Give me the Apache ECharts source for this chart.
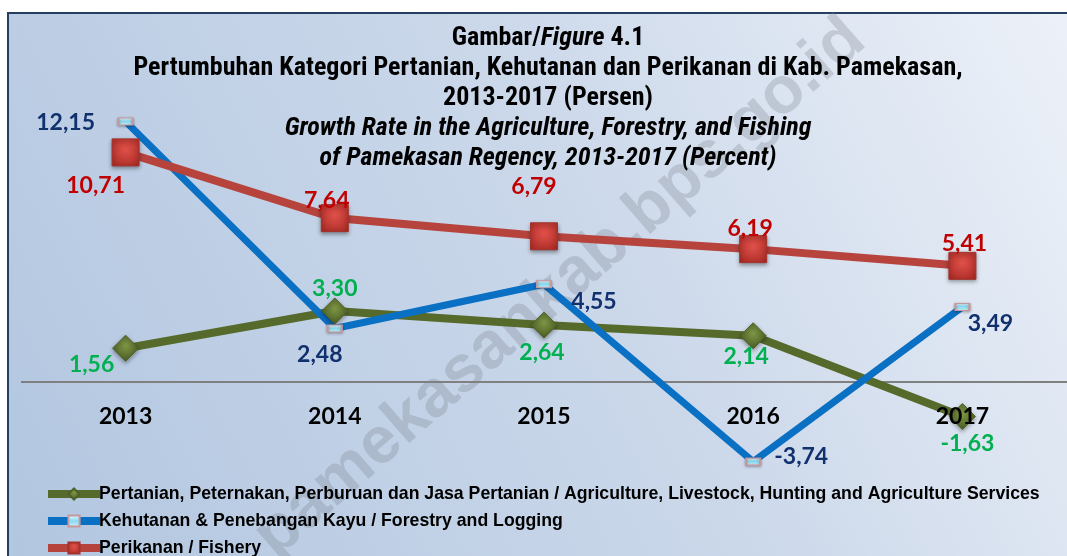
<!DOCTYPE html>
<html>
<head>
<meta charset="utf-8">
<script src="https://cdn.jsdelivr.net/npm/echarts@6/dist/echarts.min.js"></script>
<style>html,body{margin:0;padding:0;background:#fff}#c{width:1067px;height:556px}</style>
</head>
<body>
<div id="c"></div>
<script>
const categories = ['2013', '2014', '2015', '2016', '2017'];
const agriculture = [1.56, 3.30, 2.64, 2.14, -1.63];
const forestry = [12.15, 2.48, 4.55, -3.74, 3.49];
const fishery = [10.71, 7.64, 6.79, 6.19, 5.41];
const seriesNames = [
  'Pertanian, Peternakan, Perburuan dan Jasa Pertanian / Agriculture, Livestock, Hunting and Agriculture Services',
  'Kehutanan & Penebangan Kayu / Forestry and Logging',
  'Perikanan / Fishery'
];

// label offsets relative to marker centre (styling, not data)
const agriOff = [[-34, 16], [0, -22], [-2, 27], [-7, 21], [5, 27]];
const forOff = [[-60, 1], [-15, 26], [50, 17], [48, -5], [28, 17]];
const fishOff = [[-30, 33], [-8, -18], [-10, -50], [-3, -21], [2, -22]];

const TITLEF = "'Roboto Condensed','Liberation Sans Narrow','Arial Narrow',Roboto,sans-serif";
const LEGF = "'Liberation Sans',Arial,sans-serif";
const NUMF = "Lato,'Open Sans',sans-serif";

function fmt(v) { return v.toFixed(2).replace('.', ','); }
function build(vals, offs) {
  return vals.map((v, i) => ({ value: v, label: { offset: offs[i] } }));
}
function lbl(color) {
  return {
    show: true, position: 'inside', color: color,
    fontFamily: NUMF, fontWeight: 'bold', fontSize: 23,
    formatter: p => fmt(p.value)
  };
}

const Y_MIN = -6, Y_MAX = 14, GRID_TOP = 82, GRID_H = 428;
const zeroOffset = -(GRID_H * (0 - Y_MIN) / (Y_MAX - Y_MIN));

const chart = echarts.init(document.getElementById('c'), null, {renderer: 'canvas'});
chart.setOption({
  animation: false,
  graphic: [
    { type: 'rect', z: -100, shape: { x: 8, y: 13, width: 1080, height: 560 },
      style: {
        fill: new echarts.graphic.LinearGradient(0, 1, 1, 0, [
          { offset: 0, color: '#b2c6e0' },
          { offset: 0.55, color: '#cbd8ea' },
          { offset: 1, color: '#eef2f9' }
        ]),
        stroke: '#243f60', lineWidth: 2
      } },
    { type: 'text', z: -50, x: 560, y: 288, rotation: 41 * Math.PI / 180,
      style: { text: 'pamekasankab.bps.go.id', fill: 'rgba(120,125,135,0.28)',
        font: "bold 66px 'Liberation Sans', Arial, sans-serif", align: 'center', verticalAlign: 'middle' } }
  ],
  title: {
    left: 543, top: 18, textAlign: 'center',
    text: '{a|Gambar/}{ai|Figure}{a| 4.1}\n{a|Pertumbuhan Kategori Pertanian, Kehutanan dan Perikanan di Kab. Pamekasan,}\n{a|2013-2017 (Persen)}\n{ai|Growth Rate in the Agriculture, Forestry, and Fishing}\n{ai|of Pamekasan Regency, 2013-2017 (Percent)}',
    textStyle: {
      rich: {
        a: { fontFamily: TITLEF, fontWeight: 'bold', fontSize: 26, color: '#000', lineHeight: 30 },
        ai: { fontFamily: TITLEF, fontWeight: 'bold', fontStyle: 'italic', fontSize: 26, color: '#000', lineHeight: 30 }
      }
    }
  },
  legend: {
    orient: 'vertical', left: 44, top: 484, height: 120, padding: 0,
    itemWidth: 52, itemHeight: 14, itemGap: 7,
    lineStyle: { width: 8 },
    textStyle: { fontFamily: LEGF, fontWeight: 'bold', fontSize: 17.7, lineHeight: 20, color: '#000', padding: [0, 0, 0, -6] },
    data: seriesNames
  },
  grid: { left: 21, top: GRID_TOP, width: 1058, height: GRID_H, containLabel: false },
  xAxis: {
    type: 'category', data: categories, boundaryGap: true, z: 10,
    offset: zeroOffset,
    axisLine: { show: false, onZero: false },
    axisTick: { show: false },
    axisLabel: { color: '#000', fontFamily: NUMF, fontWeight: 'bold', fontSize: 23, margin: 23 }
  },
  yAxis: {
    type: 'value', min: Y_MIN, max: Y_MAX, interval: 2,
    axisLine: { show: false }, axisLabel: { show: false }, axisTick: { show: false },
    splitLine: { show: false }
  },
  series: [
    {
      name: seriesNames[0], type: 'line', data: build(agriculture, agriOff),
      symbol: 'diamond', symbolSize: 26,
      lineStyle: { color: '#566a2b', width: 8 },
      itemStyle: {
        color: new echarts.graphic.RadialGradient(0.5, 0.4, 0.6, [
          { offset: 0, color: '#7d9645' }, { offset: 1, color: '#4a5c22' }]),
        borderColor: '#4e6026', borderWidth: 1,
        shadowColor: 'rgba(0,0,0,0.35)', shadowBlur: 4, shadowOffsetY: 2
      },
      label: lbl('#00b050'),
      markLine: {
        z: 1, silent: true, symbol: 'none', label: { show: false },
        lineStyle: { color: '#808080', width: 2, type: 'solid' },
        data: [{ yAxis: 0 }]
      }
    },
    {
      name: seriesNames[1], type: 'line', data: build(forestry, forOff),
      symbol: 'rect', symbolSize: [14, 7],
      lineStyle: { color: '#0a70c4', width: 7 },
      itemStyle: {
        color: new echarts.graphic.LinearGradient(0, 0, 0, 1, [
          { offset: 0, color: '#f2fbff' }, { offset: 0.5, color: '#86dcf2' }, { offset: 1, color: '#d8eef6' }]),
        borderColor: '#c7979e', borderWidth: 1.5,
        shadowColor: 'rgba(0,0,0,0.3)', shadowBlur: 3, shadowOffsetY: 1
      },
      label: lbl('#10306e')
    },
    {
      name: seriesNames[2], type: 'line', data: build(fishery, fishOff),
      symbol: 'rect', symbolSize: 27,
      lineStyle: { color: '#b7433d', width: 8 },
      itemStyle: {
        color: new echarts.graphic.RadialGradient(0.5, 0.4, 0.7, [
          { offset: 0, color: '#e0514a' }, { offset: 1, color: '#a82a24' }]),
        borderColor: '#a3322c', borderWidth: 1,
        shadowColor: 'rgba(0,0,0,0.35)', shadowBlur: 4, shadowOffsetY: 2
      },
      label: lbl('#c00000')
    }
  ]
});
</script>
</body>
</html>
